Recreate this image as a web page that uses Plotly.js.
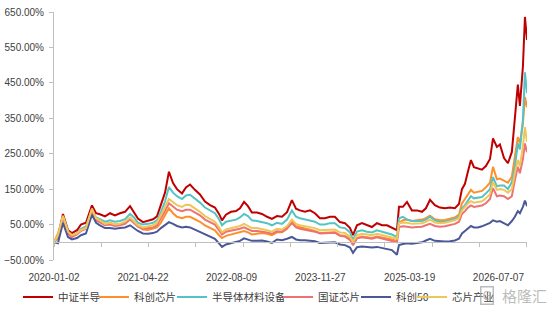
<!DOCTYPE html>
<html>
<head>
<meta charset="utf-8">
<script src="https://cdn.plot.ly/plotly-3.0.1.min.js"></script>
<style>html,body{margin:0;padding:0;background:#fff;}#chart{width:554px;height:310px;}</style>
</head>
<body>
<div id="chart"></div>
<script>
// day offsets from 2020-01-02
const days = [
0,21,48,75,96,123,144,171,203,225,
246,273,300,326,353,380,407,428,449,476,
503,530,551,572,594,615,637,658,685,706,
728,754,781,808,835,861,883,899,920,947,
974,995,1017,1038,1059,1086,1113,1140,1166,1193,
1220,1247,1273,1295,1316,1343,1370,1396,1423,1450,
1477,1503,1530,1557,1584,1600,1621,1648,1675,1701,
1728,1755,1782,1808,1835,1846,1867,1889,1915,1942,
1969,1990,2012,2038,2065,2092,2119,2145,2167,2183,
2199,2215,2231,2247,2268,2290,2311,2333,2349,2370,
2386,2408,2429,2450,2466,2482,2493,2509,2520,2531];

const zzbd = [ // 中证半导
0,15,80,34,26,34,50,55,104,82,
79,73,82,76,82,86,102,86,67,57,
60,65,73,104,140,199,167,150,138,155,
163,148,135,115,105,98,80,62,78,86,
88,96,114,102,84,84,80,72,66,74,
72,85,119,95,90,86,90,82,68,68,
72,72,57,54,40,20,48,54,48,43,
54,48,48,40,34,100,100,114,90,90,
86,96,120,105,98,96,98,96,108,150,
165,200,232,212,208,205,215,235,293,269,
276,238,223,255,350,445,385,495,636,571];

const kcxp = [ // 科创芯片
0,25,70,30,20,25,35,40,85,62,
58,52,55,50,50,55,68,58,45,36,
35,38,42,55,75,96,82,72,68,72,
72,66,58,48,40,34,20,12,18,22,
24,28,32,28,22,24,26,24,20,28,
28,38,58,45,42,40,36,32,26,26,
28,28,20,18,10,-8,12,16,14,12,
16,14,12,8,4,55,62,64,60,62,
64,68,75,65,62,63,66,70,78,110,
122,136,148,140,142,145,155,168,213,178,
180,175,168,185,241,297,280,335,410,381];

const bdtclsb = [ // 半导体材料设备
0,12,72,28,18,25,38,45,92,70,
65,58,62,58,60,65,80,70,55,50,
52,55,62,85,115,156,140,130,122,132,
134,124,112,98,90,82,65,48,58,62,
64,70,80,74,62,60,58,54,48,55,
52,64,90,72,68,64,62,58,50,50,
54,54,42,40,28,6,30,34,30,28,
34,30,28,22,15,68,72,64,60,60,
60,64,72,62,57,58,62,66,72,95,
105,118,130,124,126,128,138,150,184,158,
160,160,150,170,213,279,262,345,480,421];

const gzxp = [ // 国证芯片
0,15,70,25,15,22,32,38,90,62,
56,48,50,46,48,52,64,55,44,38,
40,42,48,66,88,110,100,92,88,92,
92,84,76,64,56,50,34,22,30,33,
35,38,42,38,32,32,31,28,24,31,
30,40,54,42,38,36,32,30,25,25,
27,27,18,16,7,-8,11,14,12,10,
14,10,8,4,0,43,45,44,42,43,
44,48,52,46,44,45,48,52,58,80,
88,98,104,100,102,104,110,122,153,130,
132,130,122,130,175,213,195,235,279,254];

const kc50 = [ // 科创50
0,-3,55,15,8,12,20,25,78,55,
48,40,40,38,40,42,48,40,32,25,
24,26,30,40,50,57,52,46,42,44,
42,36,30,22,16,10,-3,-13,-6,-2,
0,4,11,8,4,4,5,2,-2,8,
6,10,15,8,6,6,5,3,-2,-2,
0,0,-6,-8,-15,-30,-14,-12,-13,-15,
-13,-16,-18,-22,-35,-8,-5,-3,-4,-2,
0,5,10,4,2,2,3,5,10,25,
32,40,46,42,42,45,50,55,62,58,
60,55,48,60,72,88,82,100,118,102];

const xpcy = [ // 芯片产业
0,20,75,30,20,25,35,40,95,68,
62,52,55,50,52,58,70,60,48,42,
45,48,55,75,100,122,112,105,100,106,
105,96,86,74,66,58,42,28,36,40,
42,46,52,46,40,40,38,34,30,38,
36,46,64,52,48,46,44,40,34,34,
36,36,28,26,16,1,20,24,22,20,
24,20,18,14,10,54,56,55,52,53,
54,58,64,56,54,55,58,62,68,90,
100,110,116,112,114,116,124,136,170,148,
150,148,140,150,195,232,215,270,325,283];

const seriesNames = ['中证半导','科创芯片','半导体材料设备','国证芯片','科创50','芯片产业'];
const seriesColors = ['#C00000','#FF8F2A','#55C3C3','#EE7272','#4A5898','#EEC65A'];
const seriesValues = [zzbd, kcxp, bdtclsb, gzxp, kc50, xpcy];

const tickDays = [0,476,950,1425,1903,2378];
const tickLabels = ['2020-01-02','2021-04-22','2022-08-09','2023-11-27','2025-03-19','2026-07-07'];

const legendIds = ['legend','legend2','legend3','legend4','legend5','legend6'];
const legendLeft = [18, 94, 172, 278, 356, 412]; // legend box left edges (px)

const traces = seriesValues.map((v,i)=>({
  type:'scatter', mode:'lines', x:days, y:v, name:seriesNames[i], legend:legendIds[i],
  line:{color:seriesColors[i], width:2}, hoverinfo:'skip'
}));
traces.push({type:'scatter', mode:'lines', x:[0], y:[null], xaxis:'x2', showlegend:false, hoverinfo:'skip'});

const axisFont = {family:'Liberation Sans, Arial, sans-serif', size:10, color:'#404040'};
const wm = 'rgba(165,165,165,0.75)';
const layout = {
  width:554, height:310,
  margin:{l:54, r:27, t:12, b:50},
  paper_bgcolor:'#fff', plot_bgcolor:'#fff',
  showlegend:true,
  xaxis:{range:[0,2531], tickmode:'array', tickvals:tickDays, ticktext:tickLabels,
    ticks:'', showline:false, showgrid:false, zeroline:false, tickfont:axisFont, ticklabelstandoff:10},
  xaxis2:{range:[0,2531], overlaying:'x', anchor:'free', position:50/700, side:'bottom',
    tick0:0, dtick:253, ticks:'outside', ticklen:4, tickcolor:'#BFBFBF', tickwidth:1,
    showline:true, linecolor:'#BFBFBF', linewidth:1, showticklabels:false, showgrid:false, zeroline:false},
  yaxis:{range:[-50,650], tick0:-50, dtick:100, tickformat:'.2f', ticksuffix:'%',
    showline:true, linecolor:'#BFBFBF', linewidth:1, ticks:'outside', ticklen:4, tickcolor:'#BFBFBF',
    showgrid:false, zeroline:false, tickfont:axisFont, ticklabelstandoff:3},
  annotations:[
    {xref:'paper', yref:'paper', x:(549-54)/473, y:(260-295)/248, xanchor:'right', yanchor:'middle', showarrow:false,
     text:'格隆汇', font:{family:'Noto Sans CJK SC, sans-serif', size:15, color:wm}},
    {xref:'paper', yref:'paper', x:(487-54)/473, y:(260-295)/248, xanchor:'center', yanchor:'middle', showarrow:false,
     text:'G', font:{family:'Liberation Sans, sans-serif', size:12, color:wm},
     bordercolor:wm, borderwidth:1.5, borderpad:1}
  ]
};
legendIds.forEach((id,i)=>{
  layout[id] = {orientation:'h', xref:'container', yref:'container', x:legendLeft[i]/554, y:0.042,
    xanchor:'left', yanchor:'middle', font:{family:'Noto Sans CJK SC, sans-serif', size:10.5, color:'#404040'},
    itemwidth:30, bgcolor:'rgba(0,0,0,0)'};
});
Plotly.newPlot('chart', traces, layout, {staticPlot:true, displayModeBar:false});
</script>
</body>
</html>
